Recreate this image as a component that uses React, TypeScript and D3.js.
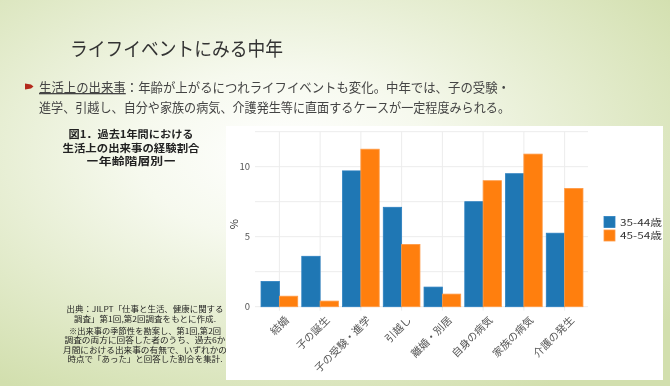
import React from "react"
import * as d3 from "d3"

// Data
const categories = ["結婚", "子の誕生", "子の受験・進学", "引越し", "離婚・別居", "自身の病気", "家族の病気", "介護の発生"]
const seriesNames = ["35-44歳", "45-54歳"]
const young = [1.8, 3.6, 9.7, 7.1, 1.4, 7.5, 9.5, 5.25]
const older = [0.75, 0.4, 11.25, 4.45, 0.9, 9.0, 10.9, 8.45]
const yTicks = [0, 5, 10]
const yGrid = [0, 2.5, 5, 7.5, 10, 12.5]
const colors = ["#1f77b4", "#ff7f0e"]
const strokes = ["#2a7fc0", "#ff9a45"]

const captionLines = ["図1．過去1年間における", "生活上の出来事の経験割合", "ー年齢階層別ー"]
const sourceLines = [
  "出典：JILPT「仕事と生活、健康に関する",
  "調査」第1回,第2回調査をもとに作成.",
  "※出来事の季節性を勘案し、第1回,第2回",
  "調査の両方に回答した者のうち、過去6か",
  "月間における出来事の有無で、いずれかの",
  "時点で「あった」と回答した割合を集計.",
]

const font = "'Noto Sans CJK JP', 'Noto Sans', sans-serif"

export default function App() {
  // Dimensions
  const W = 670
  const H = 386
  const plot = { left: 259, right: 585, top: 131.7, bottom: 306.7 }

  // Scales
  const x0 = d3.scaleBand<string>()
    .domain(categories)
    .range([plot.left, plot.right])
    .paddingInner(0.1)
    .paddingOuter(0.05)
  const x1 = d3.scaleBand<string>()
    .domain(seriesNames)
    .range([0, x0.bandwidth()])
  const y = d3.scaleLinear().domain([0, 12.5]).range([plot.bottom, plot.top])

  const series = [young, older]
  const sourceY = [312, 322, 333.5, 343, 352.5, 362]
  const sourceW = [157, 142, 152, 161, 164, 155]

  return (
    <div style={{ position: "fixed", left: 0, top: 0 }}>
      <svg width={W} height={H} style={{ display: "block", fontFamily: font }}>
        <defs>
          <radialGradient id="bg" cx="0.42" cy="0.4" r="0.72">
            <stop offset="0" stopColor="#ffffff" />
            <stop offset="0.3" stopColor="#f6f9ee" />
            <stop offset="1" stopColor="#d2dfae" />
          </radialGradient>
        </defs>
        <rect width={W} height={H} fill="url(#bg)" />

        {/* Heading */}
        <text x={70} y={56} fontSize={19.5} fill="#333" textLength={213} lengthAdjust="spacingAndGlyphs">
          ライフイベントにみる中年
        </text>
        <path d="M25,83.5 L31,84.5 L33.5,86.5 L31,88.5 L25,89.5 Z" fill="#b32a1c" />
        <text x={39} y={92} fontSize={13} fill="#444" textLength={471} lengthAdjust="spacingAndGlyphs">
          <tspan textDecoration="underline">生活上の出来事</tspan>：年齢が上がるにつれライフイベントも変化。中年では、子の受験・
        </text>
        <text x={39} y={112} fontSize={13} fill="#444" textLength={471} lengthAdjust="spacingAndGlyphs">
          進学、引越し、自分や家族の病気、介護発生等に直面するケースが一定程度みられる。
        </text>

        {/* Figure caption */}
        <g fontWeight="bold" fontSize={10} fill="#222" textAnchor="middle">
          {captionLines.map((s, i) => (
            <text key={i} x={131} y={138 + i * 13.5} textLength={[125, 137, 90][i]} lengthAdjust="spacingAndGlyphs">{s}</text>
          ))}
        </g>
        <g fontSize={7.6} fill="#222" textAnchor="middle">
          {sourceLines.map((s, i) => (
            <text key={i} x={145} y={sourceY[i]} textLength={sourceW[i]} lengthAdjust="spacingAndGlyphs">{s}</text>
          ))}
        </g>

        {/* Chart panel */}
        <rect x={226} y={126} width={437} height={254} fill="#fff" />

        {/* Grid */}
        {yGrid.map(t => (
          <line key={"gy" + t} x1={255} x2={588} y1={y(t)} y2={y(t)} stroke="#ececec" strokeWidth={1} />
        ))}
        {categories.map(c => {
          const cx = (x0(c) as number) + x0.bandwidth() / 2
          return <line key={"gx" + c} x1={cx} x2={cx} y1={plot.top} y2={plot.bottom + 4} stroke="#ececec" strokeWidth={1} />
        })}

        {/* Bars */}
        {series.map((vals, si) =>
          categories.map((c, i) => (
            <rect
              key={si + "-" + c}
              x={(x0(c) as number) + (x1(seriesNames[si]) as number)}
              y={y(vals[i])}
              width={x1.bandwidth()}
              height={y(0) - y(vals[i])}
              fill={colors[si]}
              stroke={strokes[si]}
              strokeWidth={0.8}
            />
          ))
        )}

        {/* Y axis */}
        {yTicks.map(t => (
          <text key={"yt" + t} x={250} y={y(t)} dy="0.35em" textAnchor="end" fontSize={9.5} fill="#555">
            {t}
          </text>
        ))}
        <text transform={`translate(238,${(plot.top + plot.bottom) / 2 + 5}) rotate(-90)`} textAnchor="middle" fontSize={11} fill="#333">
          %
        </text>

        {/* X labels */}
        {categories.map(c => {
          const cx = (x0(c) as number) + x0.bandwidth() / 2
          return (
            <text
              key={"xl" + c}
              transform={`translate(${cx + 5},${plot.bottom + 9}) rotate(-45)`}
              textAnchor="end"
              dy="0.7em"
              fontSize={10.5}
              fill="#555"
            >
              {c}
            </text>
          )
        })}

        {/* Legend */}
        {seriesNames.map((s, i) => (
          <g key={"lg" + s} transform={`translate(604,${216.5 + i * 13.5})`}>
            <rect width={11} height={11} fill={colors[i]} stroke={strokes[i]} strokeWidth={0.8} />
            <text x={16} y={9.3} fontSize={9.2} fill="#333" textLength={42} lengthAdjust="spacingAndGlyphs">{s}</text>
          </g>
        ))}
      </svg>
    </div>
  )
}
